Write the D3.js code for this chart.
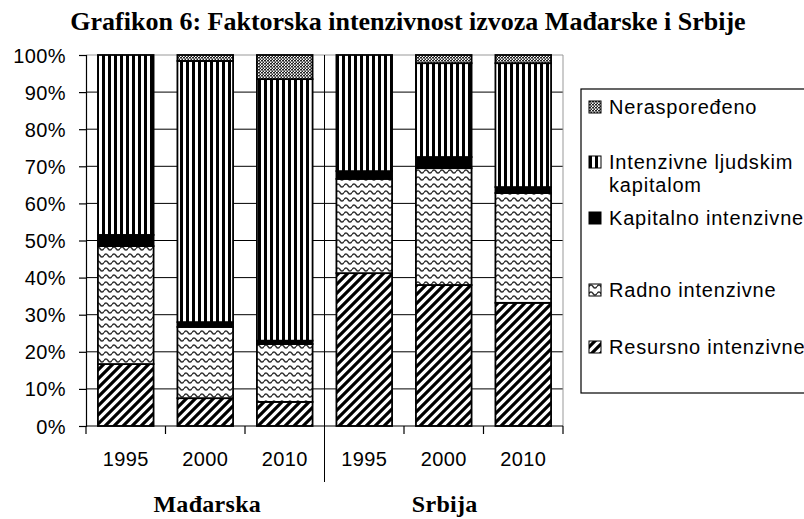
<!DOCTYPE html>
<html>
<head>
<meta charset="utf-8">
<script src="https://cdn.jsdelivr.net/npm/d3@7"></script>
<style>
  body { margin: 0; background: #fff; }
  svg { display: block; }
  .tick-label { font-family: "Liberation Sans", Arial, sans-serif; font-size: 20px; fill: #000; letter-spacing: 0.4px; }
  .legend-label { font-family: "Liberation Sans", Arial, sans-serif; font-size: 20px; fill: #000; letter-spacing: 0.8px; }
  .title { font-family: "Liberation Serif", "Times New Roman", serif; font-size: 26px; font-weight: bold; }
  .group-label { font-family: "Liberation Serif", "Times New Roman", serif; font-size: 24px; font-weight: bold; letter-spacing: 0.3px; }
</style>
</head>
<body>
<svg id="chart"></svg>
<script>
// ---- data (percent shares) ----
const categories = ['M1995', 'M2000', 'M2010', 'S1995', 'S2000', 'S2010'];
const yearLabels = ['1995', '2000', '2010', '1995', '2000', '2010'];
const groups = ['Mađarska', 'Srbija'];
const groupSize = 3;

const resursno   = [16.7,  7.5,  6.5, 41.2, 38.0, 33.2];
const radno      = [31.8, 19.2, 15.6, 25.4, 31.5, 29.6];
const kapitalno  = [ 3.0,  1.3,  0.9,  2.1,  3.0,  1.6];
const ljudskim   = [48.5, 70.4, 70.5, 31.3, 25.3, 33.4];
const nerasp     = [ 0.0,  1.6,  6.5,  0.0,  2.2,  2.2];

const seriesKeys = ['resursno', 'radno', 'kapitalno', 'ljudskim', 'nerasp'];
const seriesLabels = {
  resursno: ['Resursno intenzivne'],
  radno: ['Radno intenzivne'],
  kapitalno: ['Kapitalno intenzivne'],
  ljudskim: ['Intenzivne ljudskim', 'kapitalom'],
  nerasp: ['Neraspoređeno']
};
const yTicks = [0, 10, 20, 30, 40, 50, 60, 70, 80, 90, 100];
const titleText = 'Grafikon 6: Faktorska intenzivnost izvoza Mađarske i Srbije';

class StackedBars {
  constructor(_config) {
    this.config = {
      parentElement: _config.parentElement,
      containerWidth: 804,
      containerHeight: 519,
      plot: { left: 86, right: 563, top: 55, bottom: 426 },
      legend: { x: 581, y: 89, width: 240, height: 304, rows: [107, 162, 218, 290, 347] }
    };
    this.initVis();
  }

  initVis() {
    let vis = this;
    const p = vis.config.plot;

    vis.svg = d3.select(vis.config.parentElement)
        .attr('width', vis.config.containerWidth)
        .attr('height', vis.config.containerHeight);

    vis.defs = vis.svg.append('defs');
    vis.makePatterns();

    vis.xScale = d3.scaleBand()
        .domain(categories)
        .range([p.left, p.right])
        .paddingInner(0.3)
        .paddingOuter(0.15);

    vis.yScale = d3.scaleLinear()
        .domain([0, 100])
        .range([p.bottom, p.top]);

    vis.updateVis();
  }

  makePatterns() {
    let vis = this;
    // diagonal hatch
    const diag = vis.defs.append('pattern')
        .attr('id', 'p-resursno').attr('patternUnits', 'userSpaceOnUse')
        .attr('width', 9).attr('height', 9);
    diag.append('rect').attr('width', 9).attr('height', 9).attr('fill', '#fff');
    diag.append('path')
        .attr('d', 'M-2,2 L2,-2 M0,9 L9,0 M7,11 L11,7')
        .attr('stroke', '#000').attr('stroke-width', 3.2);

    // wavy lines
    const wave = vis.defs.append('pattern')
        .attr('id', 'p-radno').attr('patternUnits', 'userSpaceOnUse')
        .attr('width', 8).attr('height', 7);
    wave.append('rect').attr('width', 8).attr('height', 7).attr('fill', '#fff');
    wave.append('path')
        .attr('d', 'M0,3.5 Q2,0.5 4,3.5 T8,3.5')
        .attr('fill', 'none').attr('stroke', '#333').attr('stroke-width', 1.5);

    // solid black
    const solid = vis.defs.append('pattern')
        .attr('id', 'p-kapitalno').attr('patternUnits', 'userSpaceOnUse')
        .attr('width', 4).attr('height', 4);
    solid.append('rect').attr('width', 4).attr('height', 4).attr('fill', '#000');

    // vertical stripes
    const vert = vis.defs.append('pattern')
        .attr('id', 'p-ljudskim').attr('patternUnits', 'userSpaceOnUse')
        .attr('width', 6).attr('height', 6);
    vert.append('rect').attr('width', 6).attr('height', 6).attr('fill', '#fff');
    vert.append('rect').attr('x', 0).attr('width', 3).attr('height', 6).attr('fill', '#000');

    // fine checker
    const check = vis.defs.append('pattern')
        .attr('id', 'p-nerasp').attr('patternUnits', 'userSpaceOnUse')
        .attr('width', 3).attr('height', 3);
    check.append('rect').attr('width', 3).attr('height', 3).attr('fill', '#fff');
    check.append('rect').attr('width', 2).attr('height', 1.5).attr('fill', '#222');
    check.append('rect').attr('x', 1.5).attr('y', 1.5).attr('width', 2).attr('height', 1.5).attr('fill', '#222');
  }

  updateVis() {
    let vis = this;
    const values = { resursno, radno, kapitalno, ljudskim, nerasp };
    vis.table = categories.map((c, i) => {
      const row = { key: c };
      seriesKeys.forEach(k => row[k] = values[k][i]);
      return row;
    });
    vis.stacked = d3.stack().keys(seriesKeys)(vis.table);
    vis.renderVis();
  }

  renderVis() {
    let vis = this;
    const p = vis.config.plot;
    const x = vis.xScale, y = vis.yScale;
    const step = x.step();

    // gridlines
    vis.svg.append('g').selectAll('line')
        .data(yTicks.filter(t => t > 0 && t < 100))
        .join('line')
        .attr('x1', p.left).attr('x2', p.right)
        .attr('y1', d => y(d)).attr('y2', d => y(d))
        .attr('stroke', '#000').attr('stroke-width', 1);

    // plot border (top + right, grey)
    vis.svg.append('path')
        .attr('d', `M${p.left},${y(100)}H${p.right}V${y(0)}`)
        .attr('fill', 'none').attr('stroke', '#999').attr('stroke-width', 1);

    // group separator
    vis.svg.append('line')
        .attr('x1', p.left + step * groupSize).attr('x2', p.left + step * groupSize)
        .attr('y1', y(100)).attr('y2', 482)
        .attr('stroke', '#000').attr('stroke-width', 1);

    // bars
    vis.svg.append('g').selectAll('g')
        .data(vis.stacked)
        .join('g')
        .attr('fill', d => `url(#p-${d.key})`)
        .selectAll('rect')
        .data(d => d.filter(s => s[1] - s[0] > 0))
        .join('rect')
        .attr('x', d => x(d.data.key))
        .attr('width', x.bandwidth())
        .attr('y', d => y(d[1]))
        .attr('height', d => y(d[0]) - y(d[1]))
        .attr('stroke', '#000')
        .attr('stroke-width', 1.8);

    // y axis
    const yAxisG = vis.svg.append('g')
        .attr('transform', `translate(${p.left},0)`)
        .call(d3.axisLeft(y).tickValues(yTicks).tickSize(7).tickFormat(d => d + '%'));
    yAxisG.select('.domain').attr('stroke', '#000').attr('stroke-width', 1.2);
    yAxisG.selectAll('.tick line').attr('stroke', '#000').attr('stroke-width', 1.2);
    yAxisG.selectAll('.tick text')
        .attr('class', 'tick-label')
        .attr('x', -20)
        .attr('dy', '0.35em')
        .attr('font-family', null).attr('font-size', null);

    // x axis line + boundary ticks
    vis.svg.append('line')
        .attr('x1', p.left).attr('x2', p.right)
        .attr('y1', y(0)).attr('y2', y(0))
        .attr('stroke', '#000').attr('stroke-width', 1.2);
    vis.svg.append('g').selectAll('line')
        .data(d3.range(categories.length + 1).filter(i => i !== groupSize))
        .join('line')
        .attr('x1', i => p.left + i * step).attr('x2', i => p.left + i * step)
        .attr('y1', y(0)).attr('y2', y(0) + 8)
        .attr('stroke', '#000').attr('stroke-width', 1.2);

    // year labels
    vis.svg.append('g').selectAll('text')
        .data(categories)
        .join('text')
        .attr('class', 'tick-label')
        .attr('x', d => x(d) + x.bandwidth() / 2)
        .attr('y', 459)
        .attr('dy', '0.35em')
        .attr('text-anchor', 'middle')
        .text((d, i) => yearLabels[i]);

    // group labels
    vis.svg.append('g').selectAll('text')
        .data(groups)
        .join('text')
        .attr('class', 'group-label')
        .attr('x', (d, i) => p.left + step * groupSize * (i + 0.5) + (i === 0 ? 2 : 1))
        .attr('y', 512)
        .attr('text-anchor', 'middle')
        .text(d => d);

    // title
    vis.svg.append('text')
        .attr('class', 'title')
        .attr('x', 408)
        .attr('y', 30)
        .attr('text-anchor', 'middle')
        .text(titleText);

    // legend
    const lg = vis.config.legend;
    vis.svg.append('rect')
        .attr('x', lg.x).attr('y', lg.y)
        .attr('width', lg.width).attr('height', lg.height)
        .attr('fill', '#fff').attr('stroke', '#000').attr('stroke-width', 1.2);

    const legendKeys = seriesKeys.slice().reverse();
    const items = vis.svg.append('g').selectAll('g')
        .data(legendKeys)
        .join('g')
        .attr('transform', (d, i) => `translate(${lg.x + 8},${lg.rows[i]})`);
    items.append('rect')
        .attr('x', 0).attr('y', -6)
        .attr('width', 12).attr('height', 12)
        .attr('fill', d => `url(#p-${d})`)
        .attr('stroke', '#000').attr('stroke-width', 1);
    items.append('text')
        .attr('class', 'legend-label')
        .selectAll('tspan')
        .data(d => seriesLabels[d])
        .join('tspan')
        .attr('x', 20)
        .attr('dy', (d, i) => i === 0 ? '0.35em' : 23)
        .text(d => d);
  }
}

new StackedBars({ parentElement: '#chart' });
</script>
</body>
</html>
